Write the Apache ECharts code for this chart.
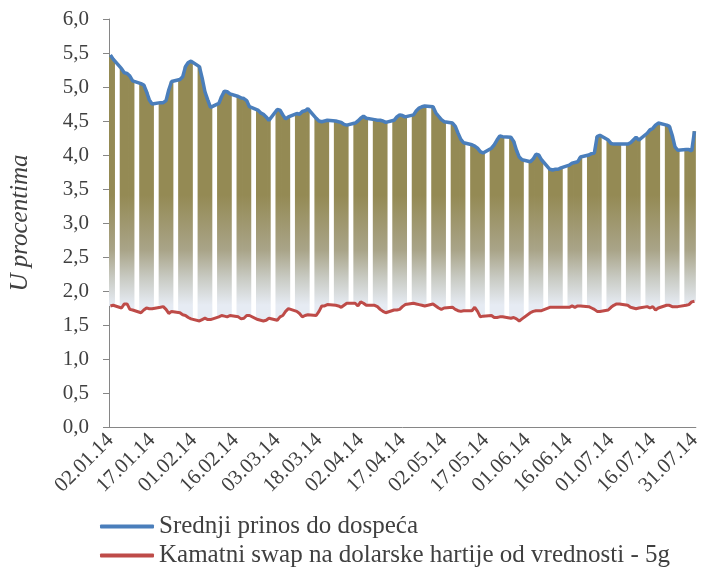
<!DOCTYPE html>
<html>
<head>
<meta charset="utf-8">
<script src="https://cdn.jsdelivr.net/npm/echarts@6/dist/echarts.min.js"></script>
<style>
  html, body { margin: 0; padding: 0; background: #fff; }
  #chart { width: 704px; height: 576px; }
</style>
</head>
<body>
<div id="chart"></div>
<script>
// Srednji prinos vs. kamatni swap, 02.01.14 - 31.07.14 (kalendarski dani, vikendi prazni)

const startDate = '2014-01-02';
const endDate = '2014-07-31';

// po nedeljama: sub, ned, pon..pet (prvi red: cet, pet)
const prinos = [
  5.47, 5.41,
  null, null, 5.27, 5.21, 5.20, 5.16, 5.09,
  null, null, 5.05, 5.03, 4.93, 4.81, 4.75,
  null, null, 4.77, 4.77, 4.80, 4.96, 5.08,
  null, null, 5.11, 5.15, 5.30, 5.36, 5.38,
  null, null, 5.30, 5.13, 4.93, 4.81, 4.70,
  null, null, 4.76, 4.86, 4.94, 4.93, 4.90,
  null, null, 4.86, 4.84, 4.83, 4.80, 4.71,
  null, null, 4.66, 4.62, 4.60, 4.56, 4.51,
  null, null, 4.67, 4.66, 4.59, 4.53, 4.56,
  null, null, 4.61, 4.60, 4.64, 4.65, 4.68,
  null, null, 4.54, 4.50, 4.49, 4.50, 4.51,
  null, null, 4.50, 4.49, 4.48, 4.45, 4.44,
  null, null, 4.47, 4.50, 4.54, 4.57, 4.54,
  null, null, 4.52, 4.51, 4.51, 4.50, 4.48,
  null, null, 4.51, 4.56, 4.59, 4.58, 4.56,
  null, null, 4.59, 4.65, 4.69, 4.71, 4.72,
  null, null, 4.71, 4.62, 4.57, 4.52, 4.49,
  null, null, 4.47, 4.42, 4.32, 4.23, 4.18,
  null, null, 4.15, 4.13, 4.10, 4.05, 4.03,
  null, null, 4.10, 4.15, 4.22, 4.28, 4.27,
  null, null, 4.26, 4.20, 4.07, 3.97, 3.93,
  null, null, 3.90, 3.94, 4.01, 4.00, 3.93,
  null, null, 3.79, 3.78, 3.79, 3.79, 3.81,
  null, null, 3.85, 3.88, 3.89, 3.90, 3.97,
  null, null, 4.00, 4.02, 4.03, 4.27, 4.29,
  null, null, 4.22, 4.17, 4.16, 4.16, 4.16,
  null, null, 4.16, 4.18, 4.22, 4.26, 4.22,
  null, null, 4.32, 4.37, 4.39, 4.44, 4.47,
  null, null, 4.44, 4.42, 4.29, 4.12, 4.07,
  null, null, 4.08, 4.08, 4.06, 4.35
];

const swap = [
  1.78, 1.79,
  null, null, 1.75, 1.81, 1.81, 1.73, 1.72,
  null, null, 1.68, 1.72, 1.75, 1.74, 1.74,
  null, null, 1.76, 1.77, 1.73, 1.67, 1.70,
  null, null, 1.68, 1.65, 1.64, 1.61, 1.59,
  null, null, 1.56, 1.58, 1.60, 1.58, 1.58,
  null, null, 1.62, 1.64, 1.63, 1.62, 1.64,
  null, null, 1.62, 1.59, 1.60, 1.64, 1.64,
  null, null, 1.58, 1.57, 1.56, 1.57, 1.60,
  null, null, 1.57, 1.62, 1.64, 1.70, 1.74,
  null, null, 1.70, 1.67, 1.62, 1.64, 1.65,
  null, null, 1.64, 1.70, 1.78, 1.78, 1.80,
  null, null, 1.79, 1.78, 1.76, 1.79, 1.82,
  null, null, 1.82, 1.78, 1.84, 1.82, 1.79,
  null, null, 1.79, 1.77, 1.73, 1.70, 1.68,
  null, null, 1.72, 1.72, 1.73, 1.77, 1.80,
  null, null, 1.82, 1.81, 1.80, 1.79, 1.78,
  null, null, 1.81, 1.78, 1.75, 1.73, 1.75,
  null, null, 1.76, 1.73, 1.71, 1.70, 1.71,
  null, null, 1.71, 1.76, 1.70, 1.62, 1.63,
  null, null, 1.64, 1.61, 1.61, 1.62, 1.62,
  null, null, 1.60, 1.61, 1.59, 1.56, 1.59,
  null, null, 1.68, 1.70, 1.71, 1.71, 1.71,
  null, null, 1.76, 1.76, 1.76, 1.76, 1.76,
  null, null, 1.76, 1.78, 1.76, 1.78, 1.78,
  null, null, 1.77, 1.75, 1.73, 1.70, 1.70,
  null, null, 1.72, 1.76, 1.79, 1.81, 1.81,
  null, null, 1.79, 1.76, 1.75, 1.74, 1.75,
  null, null, 1.77, 1.75, 1.77, 1.72, 1.75,
  null, null, 1.79, 1.79, 1.77, 1.77, 1.77,
  null, null, 1.79, 1.80, 1.84, 1.85
];

const seriesNames = ['Srednji prinos do dospeća', 'Kamatni swap na dolarske hartije od vrednosti - 5g'];
const seriesColors = ['#4A7EBB', '#BE4B48'];

// kategorije: svaki kalendarski dan
const pad = n => (n < 10 ? '0' : '') + n;
const days = [];
for (let d = new Date(startDate + 'T12:00:00Z'); d <= new Date(endDate + 'T12:00:00Z'); d.setUTCDate(d.getUTCDate() + 1)) {
  days.push(pad(d.getUTCDate()) + '.' + pad(d.getUTCMonth() + 1) + '.' + String(d.getUTCFullYear()).slice(2));
}

const spread = prinos.map((v, i) => (v == null || swap[i] == null) ? null : +(v - swap[i]).toFixed(2));

const FONT = "'Liberation Serif', 'Times New Roman', serif";
const TXT = '#404040';
const AXIS = '#868686';

const fillGrad = new echarts.graphic.LinearGradient(0, 195, 0, 305, [
  { offset: 0, color: '#948A54' },
  { offset: 0.5, color: '#A9A488' },
  { offset: 0.75, color: '#C8CAC2' },
  { offset: 1, color: '#E6EBF3' }
], true);

// jedna legenda po stavci, jedna ispod druge
const legendItem = (idx, top) => ({
  orient: 'horizontal',
  left: 95,
  top: top,
  itemWidth: 54,
  itemHeight: 4,
  data: [{ name: seriesNames[idx], icon: 'roundRect', itemStyle: { color: seriesColors[idx] } }],
  textStyle: { fontFamily: FONT, fontSize: 25, color: TXT, padding: [0, 0, 0, 0] }
});

const chart = echarts.init(document.getElementById('chart'), null, { renderer: 'canvas' });

chart.setOption({
  animation: false,
  backgroundColor: '#fff',
  grid: { left: 109, right: 3, top: 19, bottom: 149, containLabel: false },
  legend: [legendItem(0, 509), legendItem(1, 538)],
  xAxis: {
    type: 'category',
    data: days,
    boundaryGap: true,
    axisLine: { lineStyle: { color: AXIS, width: 1 } },
    axisTick: { interval: 14, length: 6, alignWithLabel: true, lineStyle: { color: AXIS } },
    axisLabel: { interval: 14, rotate: 45, margin: 10, fontFamily: FONT, fontSize: 21, color: TXT },
    splitLine: { show: false }
  },
  yAxis: {
    type: 'value',
    min: 0,
    max: 6,
    interval: 0.5,
    name: 'U procentima',
    nameLocation: 'middle',
    nameGap: 76,
    nameTextStyle: { fontFamily: FONT, fontSize: 25, fontStyle: 'italic', color: TXT },
    axisLine: { show: true, lineStyle: { color: AXIS, width: 1 } },
    axisTick: { show: true, length: 6, lineStyle: { color: AXIS } },
    axisLabel: {
      margin: 20,
      fontFamily: FONT,
      fontSize: 21,
      color: TXT,
      formatter: v => v.toFixed(1).replace('.', ',')
    },
    splitLine: { show: false }
  },
  series: [
    {
      name: 'osnova',
      type: 'bar',
      stack: 'raspon',
      data: swap,
      barWidth: 3.6,
      itemStyle: { color: 'rgba(0,0,0,0)' },
      silent: true
    },
    {
      name: 'raspon',
      type: 'bar',
      stack: 'raspon',
      data: spread,
      barWidth: 3.6,
      itemStyle: { color: fillGrad },
      silent: true
    },
    {
      name: seriesNames[0],
      type: 'line',
      data: prinos,
      connectNulls: true,
      symbol: 'none',
      z: 5,
      lineStyle: { color: seriesColors[0], width: 3.5 },
      itemStyle: { color: seriesColors[0] }
    },
    {
      name: seriesNames[1],
      type: 'line',
      data: swap,
      connectNulls: true,
      symbol: 'none',
      z: 5,
      lineStyle: { color: seriesColors[1], width: 3 },
      itemStyle: { color: seriesColors[1] }
    }
  ]
});
</script>
</body>
</html>
